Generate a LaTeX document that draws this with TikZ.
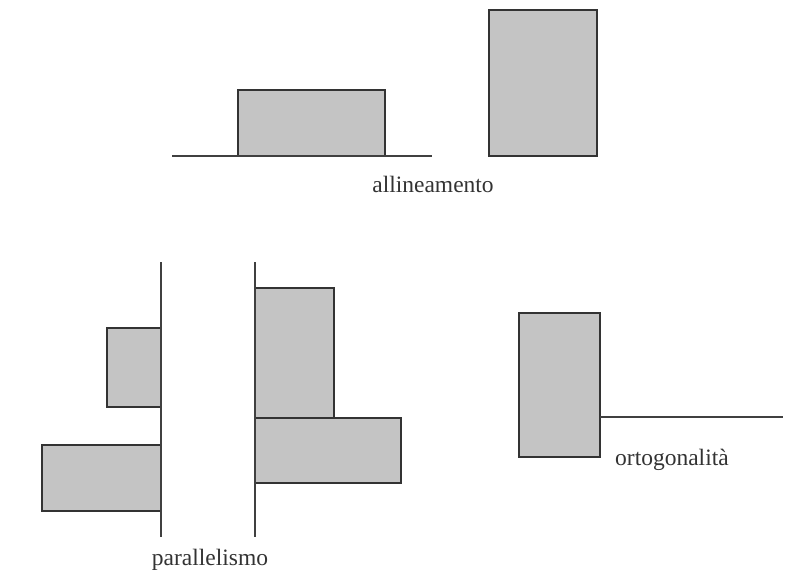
\documentclass[tikz,border=0pt]{standalone}
\usepackage{fontspec}
\setmainfont{Liberation Serif}
\usetikzlibrary{patterns}

\begin{document}
\begin{tikzpicture}[x=1pt, y=-1pt,
    block/.style={draw=black!80, line width=1.3pt, fill=black!23},
    axis/.style={draw=black!75, line width=1.1pt},
    caption/.style={font=\fontsize{23.5}{28}\selectfont, text=black!80, inner sep=0pt}]
	\useasboundingbox (0,0) rectangle (788,575);
	% allineamento
	\coordinate (L1) at (172,156);
	\coordinate (L2) at (432,156);
	\draw [block] (238,90) rectangle (385,156);
	\draw [block] (489,10) rectangle (597,156);
	\draw [axis] (L1) -- (L2);
	\node [caption] (allin) at (433,184) {allineamento};

	% parallelismo
	\coordinate (P1) at (161,262);
	\coordinate (P2) at (161,537);
	\coordinate (Q1) at (255,262);
	\coordinate (Q2) at (255,537);
	\draw [block] (107,328) rectangle (161,407);
	\draw [block] (42,445) rectangle (161,511);
	\draw [block] (255,288) rectangle (334,418);
	\draw [block] (255,418) rectangle (401,483);
	\draw [axis] (P1) -- (P2);
	\draw [axis] (Q1) -- (Q2);
	\node [caption] (paral) at (210,560) {parallelismo};

	% ortogonalita'
	\coordinate (R1) at (600,417);
	\coordinate (R2) at (783,417);
	\draw [block] (519,313) rectangle (600,457);
	\draw [axis] (R1) -- (R2);
	\node [caption, anchor=west] (ortog) at (615,460) {ortogonalità};
\end{tikzpicture}
\end{document}
